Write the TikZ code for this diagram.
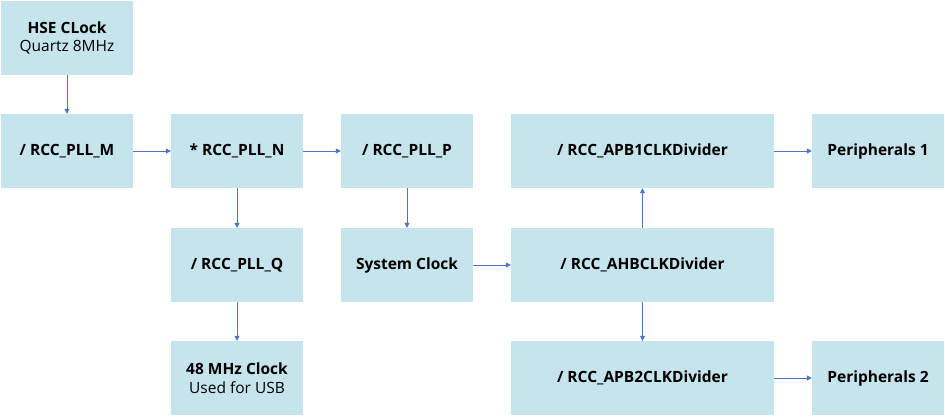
\documentclass[tikz,border=0pt]{standalone}
\usepackage{fontspec}
\setmainfont{Open Sans}
\usepackage{xcolor}
\usepackage{tikz}
\usetikzlibrary{arrows.meta}
\definecolor{clkfill}{RGB}{198, 228, 236}
\definecolor{clkarrow}{RGB}{74, 118, 196}

\begin{document}
\begin{tikzpicture}[x=1pt, y=-1pt, >={Triangle[length=5pt, width=5pt]},
  clkbox/.style={fill=clkfill, inner sep=0pt, minimum width=132pt,
    minimum height=74pt, align=center, font=\fontsize{15.5}{18.5}\selectfont},
  widebox/.style={clkbox, minimum width=263pt},
  clklink/.style={->, clkarrow, line width=0.8pt}]

  \useasboundingbox (0,0) rectangle (945,416);

  % --- source and PLL chain ---
  \node[clkbox] (hse) at (67,38) {\textbf{HSE CLock}\\Quartz 8MHz};
  \node[clkbox] (pllm) at (67,151) {\textbf{/ RCC\_PLL\_M}};
  \node[clkbox] (plln) at (237,151) {\textbf{* RCC\_PLL\_N}};
  \node[clkbox] (pllp) at (407,151) {\textbf{/ RCC\_PLL\_P}};
  \node[clkbox] (pllq) at (237,265) {\textbf{/ RCC\_PLL\_Q}};
  \node[clkbox] (usb) at (237,378) {\textbf{48 MHz Clock}\\Used for USB};
  \node[clkbox] (sysclk) at (407,265) {\textbf{System Clock}};

  % --- bus dividers ---
  \node[widebox] (apb1) at (642.5,151) {\textbf{/ RCC\_APB1CLKDivider}};
  \node[widebox] (ahb) at (642.5,265) {\textbf{/ RCC\_AHBCLKDivider}};
  \node[widebox] (apb2) at (642.5,378) {\textbf{/ RCC\_APB2CLKDivider}};

  % --- peripherals ---
  \node[clkbox] (per1) at (878,151) {\textbf{Peripherals 1}};
  \node[clkbox] (per2) at (878,378) {\textbf{Peripherals 2}};

  % --- connections ---
  \draw[clklink] (hse) -- (pllm);
  \draw[clklink] (pllm) -- (plln);
  \draw[clklink] (plln) -- (pllp);
  \draw[clklink] (plln) -- (pllq);
  \draw[clklink] (pllq) -- (usb);
  \draw[clklink] (pllp) -- (sysclk);
  \draw[clklink] (sysclk) -- (ahb);
  \draw[clklink] (ahb) -- (apb1);
  \draw[clklink] (ahb) -- (apb2);
  \draw[clklink] (apb1) -- (per1);
  \draw[clklink] (apb2) -- (per2);

\end{tikzpicture}
\end{document}
